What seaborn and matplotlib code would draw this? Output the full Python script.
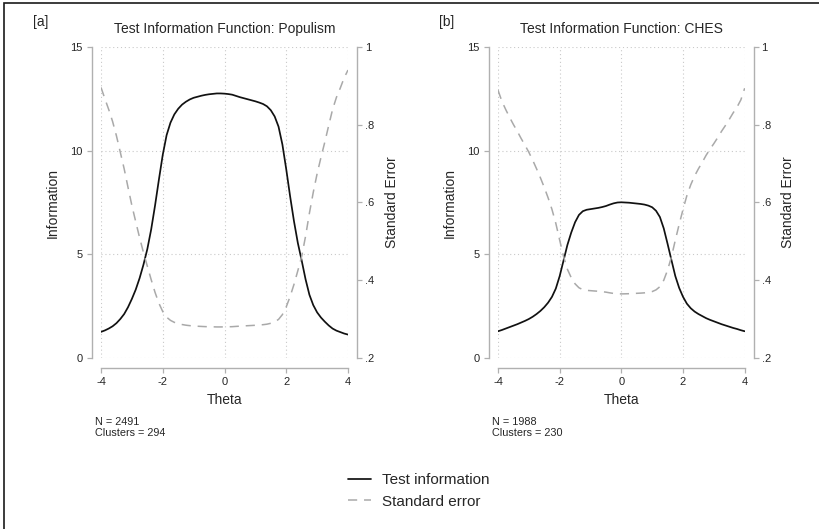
import matplotlib
matplotlib.use("Agg")
import matplotlib.pyplot as plt
from matplotlib.lines import Line2D
from matplotlib.patches import Rectangle
import pandas as pd
import seaborn as sns

# ---------------- data ----------------
theta = [-4.0, -3.875, -3.75, -3.625, -3.5, -3.375, -3.25, -3.125, -3.0, -2.875, -2.75,
         -2.625, -2.5, -2.375, -2.25, -2.125, -2.0, -1.875, -1.75, -1.625, -1.5, -1.375,
         -1.25, -1.125, -1.0, -0.875, -0.75, -0.625, -0.5, -0.375, -0.25, -0.125, 0.0,
         0.125, 0.25, 0.375, 0.5, 0.625, 0.75, 0.875, 1.0, 1.125, 1.25, 1.375,
         1.5, 1.625, 1.75, 1.875, 2.0, 2.125, 2.25, 2.375, 2.5, 2.625, 2.75,
         2.875, 3.0, 3.125, 3.25, 3.375, 3.5, 3.625, 3.75, 3.875, 4.0]

info_populism = [1.26, 1.33, 1.42, 1.53, 1.68, 1.88, 2.12, 2.45, 2.85, 3.3, 3.85,
                 4.5, 5.25, 6.2, 7.35, 8.6, 9.8, 10.75, 11.35, 11.75, 12.02, 12.22,
                 12.36, 12.47, 12.55, 12.6, 12.65, 12.69, 12.72, 12.74, 12.76, 12.76, 12.75,
                 12.73, 12.7, 12.64, 12.58, 12.53, 12.48, 12.43, 12.38, 12.32, 12.25, 12.14,
                 11.95, 11.65, 11.16, 10.3, 9.1, 7.8, 6.6, 5.55, 4.7, 3.8, 3.05,
                 2.55, 2.2, 1.95, 1.75, 1.57, 1.42, 1.32, 1.25, 1.18, 1.13]
se_populism = [0.896, 0.8671, 0.8392, 0.8085, 0.7715, 0.7293, 0.6868, 0.6389, 0.5923, 0.5505, 0.5096,
               0.4714, 0.4364, 0.4016, 0.3689, 0.3410, 0.3194, 0.3050, 0.2968, 0.2917, 0.2884, 0.2861,
               0.2844, 0.2832, 0.2823, 0.2817, 0.2812, 0.2807, 0.2804, 0.2802, 0.2799, 0.2799, 0.2801,
               0.2803, 0.2806, 0.2813, 0.2819, 0.2825, 0.2831, 0.2836, 0.2842, 0.2849, 0.2857, 0.2870,
               0.2893, 0.2930, 0.2993, 0.3116, 0.3315, 0.3581, 0.3892, 0.4245, 0.4613, 0.5130, 0.5726,
               0.6262, 0.6742, 0.7161, 0.7559, 0.7981, 0.8392, 0.8704, 0.8944, 0.9206, 0.9407]

info_ches = [1.29, 1.35, 1.42, 1.49, 1.56, 1.63, 1.71, 1.79, 1.88, 1.99, 2.12,
             2.27, 2.45, 2.67, 2.95, 3.35, 3.95, 4.7, 5.45, 6.05, 6.55, 6.9,
             7.08, 7.15, 7.18, 7.21, 7.24, 7.28, 7.33, 7.4, 7.46, 7.5, 7.51,
             7.5, 7.49, 7.47, 7.45, 7.43, 7.4, 7.35, 7.27, 7.1, 6.8, 6.25,
             5.5, 4.72, 3.95, 3.38, 2.95, 2.62, 2.4, 2.24, 2.12, 2.02, 1.92,
             1.84, 1.77, 1.7, 1.63, 1.57, 1.51, 1.45, 1.4, 1.34, 1.29]
se_ches = [0.889, 0.8607, 0.8392, 0.8192, 0.8006, 0.7833, 0.7647, 0.7474, 0.7293, 0.7089, 0.6868,
           0.6637, 0.6389, 0.6120, 0.5822, 0.5464, 0.5032, 0.4613, 0.4284, 0.4066, 0.3907, 0.3807,
           0.3758, 0.3740, 0.3732, 0.3724, 0.3717, 0.3706, 0.3694, 0.3676, 0.3661, 0.3651, 0.3649,
           0.3651, 0.3654, 0.3659, 0.3664, 0.3669, 0.3676, 0.3689, 0.3709, 0.3753, 0.3835, 0.4000,
           0.4264, 0.4603, 0.5032, 0.5439, 0.5822, 0.6178, 0.6455, 0.6682, 0.6868, 0.7036, 0.7217,
           0.7372, 0.7516, 0.7670, 0.7833, 0.7981, 0.8138, 0.8305, 0.8452, 0.8639, 0.894]

titles = ["Test Information Function: Populism", "Test Information Function: CHES"]
tags = ["[a]", "[b]"]
n_obs = [2491, 1988]
n_clusters = [294, 230]

x_ticks = [-4, -2, 0, 2, 4]
x_ticklabels = ["-4", "-2", "0", "2", "4"]
info_ticks = [0, 5, 10, 15]
se_ticks = [0.2, 0.4, 0.6, 0.8, 1.0]
se_ticklabels = [".2", ".4", ".6", ".8", "1"]
legend_labels = ["Test information", "Standard error"]

# ---------------- style ----------------
sns.set_style("white")
plt.rcParams["font.family"] = ["Liberation Sans", "DejaVu Sans"]
plt.rcParams["axes.unicode_minus"] = False

W, H = 819, 529
fig = plt.figure(figsize=(W / 100, H / 100), dpi=100)

# outer frame (graph region outline)
fig.patches.append(Rectangle((4 / W, -0.05), 1.2, 1 - 3 / H + 0.05, transform=fig.transFigure,
                             fill=False, edgecolor="#1a1a1a", linewidth=1.2))

AX_COL = "#b0b0b0"
TXT_COL = "#262626"
INFO_COL = "#111111"
SE_COL = "#a9a9a9"
SE_LS = (0, (6, 4.5))

panel_left = [101, 498]
panel_width = [247, 246.7]
ylab_x = [53, 450]
y2lab_x = [392, 788]
infos = [info_populism, info_ches]
ses = [se_populism, se_ches]

for i in range(2):
    left = panel_left[i]
    pw = panel_width[i]
    ax = fig.add_axes([left / W, (H - 358) / H, pw / W, 311 / H])
    df = pd.DataFrame({"Theta": theta, "Information": infos[i], "SE": ses[i]})

    ax.grid(True, linestyle=(0, (1, 2.5)), color="#c9c9c9", linewidth=0.8)
    ax.set_axisbelow(True)
    sns.lineplot(data=df, x="Theta", y="Information", ax=ax, color=INFO_COL,
                 linewidth=1.25, zorder=3)
    ax2 = ax.twinx()
    sns.lineplot(data=df, x="Theta", y="SE", ax=ax2, color=SE_COL,
                 linewidth=1.1, linestyle=SE_LS, zorder=3)
    ax2.grid(False)

    ax.set_xlim(-4, 4)
    ax.set_ylim(0, 15)
    ax2.set_ylim(0.2, 1.0)
    ax.set_xticks(x_ticks)
    ax.set_xticklabels(x_ticklabels)
    ax.set_yticks(info_ticks)
    ax2.set_yticks(se_ticks)
    ax2.set_yticklabels(se_ticklabels)

    for a in (ax, ax2):
        for s in a.spines.values():
            s.set_visible(False)
    ax.spines["left"].set_visible(True)
    ax.spines["left"].set_position(("outward", 6.5))
    ax.spines["left"].set_bounds(0, 15)
    ax.spines["bottom"].set_visible(True)
    ax.spines["bottom"].set_position(("outward", 7.2))
    ax.spines["bottom"].set_bounds(-4, 4)
    ax2.spines["right"].set_visible(True)
    ax2.spines["right"].set_position(("outward", 6.5))
    ax2.spines["right"].set_bounds(0.2, 1.0)
    for s in (ax.spines["left"], ax.spines["bottom"], ax2.spines["right"]):
        s.set_color(AX_COL)
        s.set_linewidth(1.0)

    ax.tick_params(axis="both", which="major", bottom=True, left=True, length=3.6, width=0.9,
                   color=AX_COL, labelsize=8, labelcolor=TXT_COL, pad=3, direction="out")
    ax2.tick_params(axis="y", which="major", right=True, left=False, length=3.6, width=0.9,
                    color=AX_COL, labelsize=8, labelcolor=TXT_COL, pad=2, direction="out")
    ax2.patch.set_visible(False)

    ax.set_xlabel("Theta", fontsize=10, color=TXT_COL, va="center")
    ax.xaxis.set_label_coords(0.5, (358 - 400) / 311)
    ax.set_ylabel("Information", fontsize=10, color=TXT_COL, va="center", rotation=90)
    ax.yaxis.set_label_coords((ylab_x[i] - left) / pw, 0.5)
    ax2.set_ylabel("Standard Error", fontsize=10, color=TXT_COL, va="center", rotation=90)
    ax2.yaxis.set_label_coords((y2lab_x[i] - left) / pw, 0.5)

    ax.set_title(titles[i], fontsize=10, color=TXT_COL, pad=10)

    tag_x = [33, 439][i]
    fig.text(tag_x / W, 1 - 22 / H, tags[i], fontsize=10, color=TXT_COL, va="center", ha="left")
    nx = [95, 492][i]
    fig.text(nx / W, 1 - 422 / H, f"N = {n_obs[i]}", fontsize=7.8, color=TXT_COL, va="center")
    fig.text(nx / W, 1 - 433 / H, f"Clusters = {n_clusters[i]}", fontsize=7.8, color=TXT_COL,
             va="center")

handles = [Line2D([], [], color=INFO_COL, linewidth=1.25),
           Line2D([], [], color=SE_COL, linewidth=1.1, linestyle=SE_LS)]
fig.legend(handles, legend_labels, loc="center", bbox_to_anchor=(0.511, 1 - 491 / H),
           frameon=False, fontsize=11, handlelength=1.5, handletextpad=0.72,
           labelspacing=0.5, labelcolor=TXT_COL)

fig.savefig("out.png", dpi=100)
